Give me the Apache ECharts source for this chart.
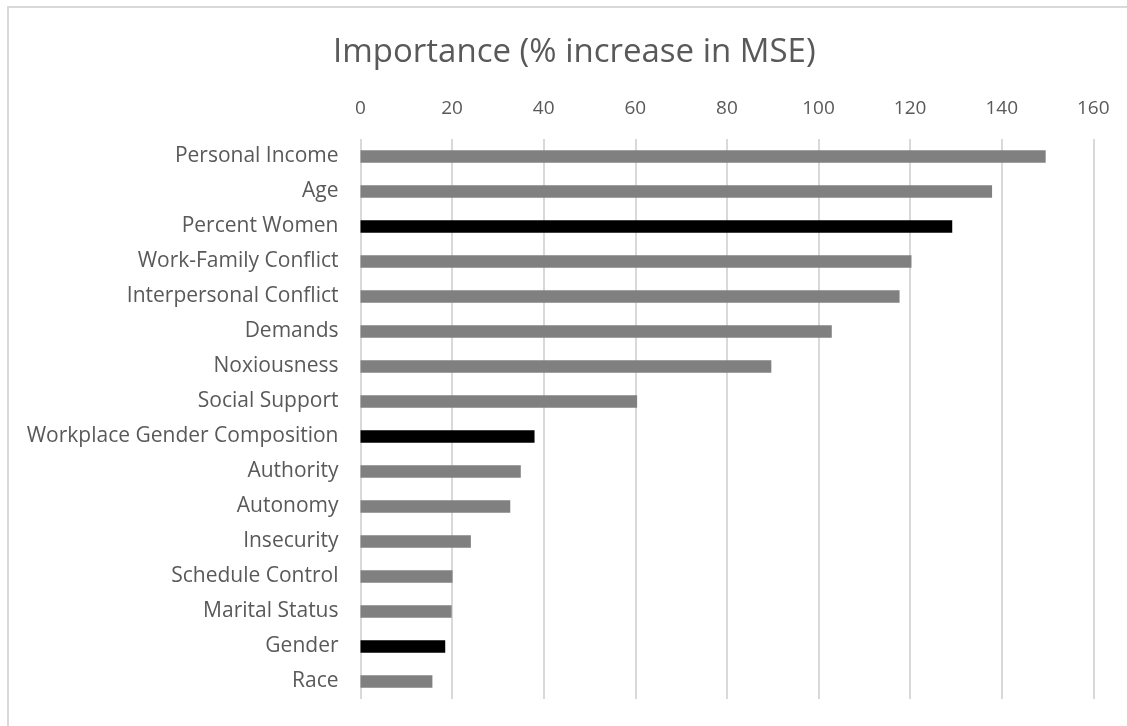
<!DOCTYPE html>
<html>
<head>
<meta charset="utf-8">
<script src="https://cdn.jsdelivr.net/npm/echarts@6/dist/echarts.min.js"></script>
<style>
  html, body { margin: 0; padding: 0; background: #ffffff; }
  #chart { width: 1127px; height: 726px; }
</style>
</head>
<body>
<div id="chart"></div>
<script>
// Variable importance from the random forest model
const categories = [
  'Personal Income', 'Age', 'Percent Women', 'Work-Family Conflict',
  'Interpersonal Conflict', 'Demands', 'Noxiousness', 'Social Support',
  'Workplace Gender Composition', 'Authority', 'Autonomy', 'Insecurity',
  'Schedule Control', 'Marital Status', 'Gender', 'Race'
];
const importance = [
  149.6, 137.9, 129.2, 120.3, 117.7, 102.9, 89.7, 60.4,
  38.0, 35.0, 32.7, 24.1, 20.1, 19.9, 18.5, 15.7
];
// Gender-composition measures shown in black
const genderMeasures = ['Percent Women', 'Workplace Gender Composition', 'Gender'];
const xTicks = { min: 0, max: 160, step: 20 };

const FONT = 'Open Sans';
const TEXT = '#595959';

const chart = echarts.init(document.getElementById('chart'), null, { renderer: 'canvas' });

chart.setOption({
  backgroundColor: '#ffffff',
  animation: false,
  title: {
    text: 'Importance (% increase in MSE)',
    left: 328,
    top: 31,
    textStyle: { fontFamily: FONT, fontSize: 33, fontWeight: 'normal', color: TEXT }
  },
  graphic: [{
    type: 'rect',
    shape: { x: 8, y: 7, width: 1140, height: 740 },
    style: { fill: 'none', stroke: '#d9d9d9', lineWidth: 2 },
    silent: true
  }],
  grid: { left: 360.5, right: 33.7, top: 139, bottom: 27, containLabel: false },
  xAxis: {
    type: 'value',
    position: 'top',
    min: xTicks.min,
    max: xTicks.max,
    interval: xTicks.step,
    axisLine: { show: false },
    axisTick: { show: false },
    axisLabel: { color: TEXT, fontFamily: FONT, fontSize: 19, margin: 21 },
    splitLine: { show: true, lineStyle: { color: '#d9d9d9', width: 2 } }
  },
  yAxis: {
    type: 'category',
    data: categories,
    inverse: true,
    axisLine: { show: false },
    axisTick: { show: false },
    axisLabel: { color: TEXT, fontFamily: FONT, fontSize: 21, margin: 22, padding: [3, 0, 0, 0] }
  },
  series: [{
    type: 'bar',
    data: importance,
    barWidth: 12.5,
    itemStyle: {
      color: p => genderMeasures.includes(categories[p.dataIndex]) ? '#000000' : '#808080'
    }
  }]
});
</script>
</body>
</html>
